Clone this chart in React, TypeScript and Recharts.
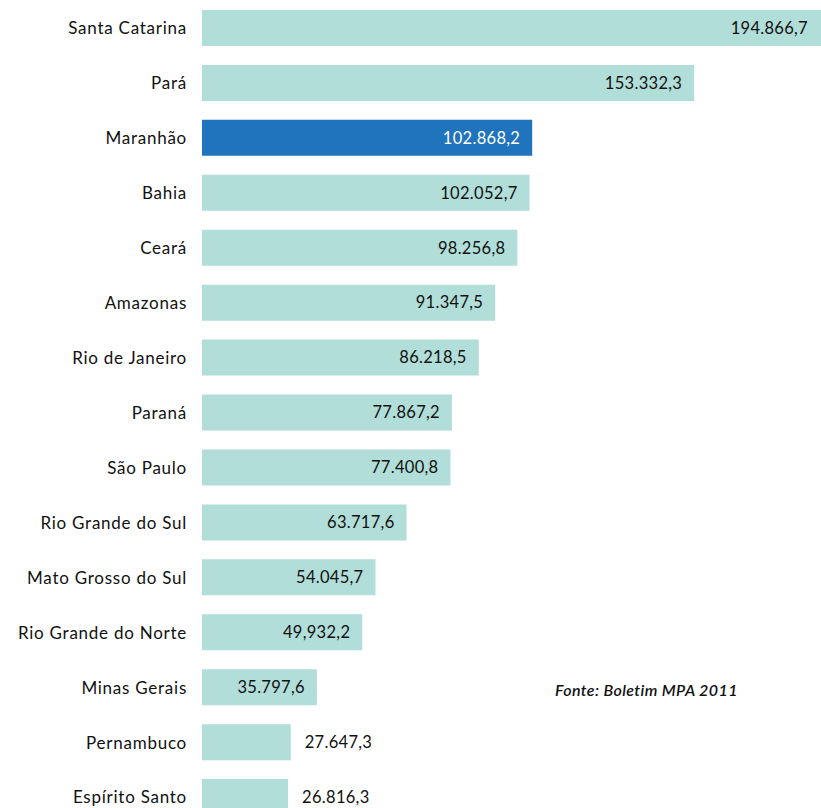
import { BarChart, Bar, XAxis, YAxis, Cell, LabelList } from 'recharts'

const states = [
  'Santa Catarina', 'Pará', 'Maranhão', 'Bahia', 'Ceará', 'Amazonas', 'Rio de Janeiro',
  'Paraná', 'São Paulo', 'Rio Grande do Sul', 'Mato Grosso do Sul', 'Rio Grande do Norte',
  'Minas Gerais', 'Pernambuco', 'Espírito Santo',
]
const production = [
  194866.7, 153332.3, 102868.2, 102052.7, 98256.8, 91347.5, 86218.5,
  77867.2, 77400.8, 63717.6, 54045.7, 49932.2, 35797.6, 27647.3, 26816.3,
]
const valueLabels = [
  '194.866,7', '153.332,3', '102.868,2', '102.052,7', '98.256,8', '91.347,5', '86.218,5',
  '77.867,2', '77.400,8', '63.717,6', '54.045,7', '49,932,2', '35.797,6', '27.647,3', '26.816,3',
]
const highlight = 'Maranhão'

const data = states.map((name, i) => ({ name, value: production[i], label: valueLabels[i] }))

const FONT = 'Lato, "Open Sans", sans-serif'
const TEAL = '#b1ded9'
const BLUE = '#1f74bd'
const VISIBLE_RIGHT = 820

function StateTick(props: any) {
  const { x, y, payload } = props
  return (
    <text
      x={x}
      y={y}
      dy="0.35em"
      textAnchor="end"
      fill="#111111"
      fontFamily={FONT}
      fontSize={17}
      letterSpacing={0.75}
    >
      {payload.value}
    </text>
  )
}

function ValueLabel(props: any) {
  const { x, y, width, height, index } = props
  const d = data[index]
  const end = x + width
  const inside = width > 100
  const tx = inside ? Math.min(end, VISIBLE_RIGHT) - 12 : end + 14
  return (
    <text
      x={tx}
      y={y + height / 2}
      dy="0.35em"
      textAnchor={inside ? 'end' : 'start'}
      fill={d.name === highlight ? '#ffffff' : '#111111'}
      fontFamily={FONT}
      fontSize={16.5}
      letterSpacing={0.3}
    >
      {d.label}
    </text>
  )
}

export default function App() {
  return (
    <div style={{ position: 'absolute', left: 0, top: 0, width: 821, height: 808, overflow: 'hidden', background: '#fff' }}>
      <BarChart
        width={844}
        height={825}
        data={data}
        layout="vertical"
        margin={{ top: 1, right: 0, bottom: 0, left: 0 }}
        barSize={36}
      >
        <XAxis type="number" domain={[0, 200000]} hide />
        <YAxis
          type="category"
          dataKey="name"
          width={202}
          axisLine={false}
          tickLine={false}
          tickSize={0}
          tickMargin={15}
          interval={0}
          tick={<StateTick />}
        />
        <Bar dataKey="value" isAnimationActive={false}>
          {data.map((d, i) => (
            <Cell key={i} fill={d.name === highlight ? BLUE : TEAL} />
          ))}
          <LabelList dataKey="value" content={ValueLabel} />
        </Bar>
      </BarChart>
      <div
        style={{
          position: 'absolute',
          left: 555,
          top: 680,
          fontFamily: FONT,
          fontStyle: 'italic',
          fontWeight: 600,
          fontSize: 16,
          letterSpacing: 0.4,
          color: '#111111',
          whiteSpace: 'nowrap',
        }}
      >
        Fonte: Boletim MPA 2011
      </div>
    </div>
  )
}
